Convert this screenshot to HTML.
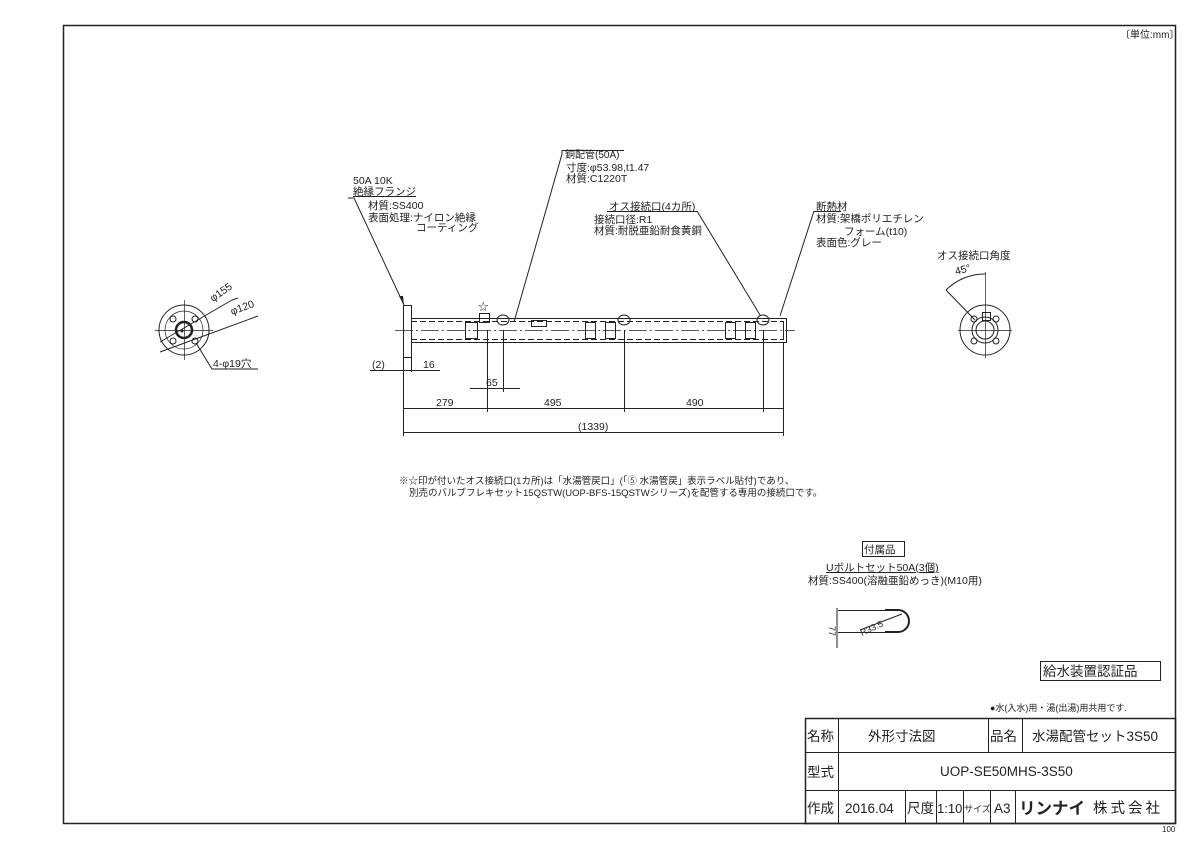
<!DOCTYPE html>
<html><head><meta charset="utf-8"><style>
html,body{margin:0;padding:0;background:#fff}
svg{display:block}
text{font-family:"Liberation Sans","Noto Sans CJK JP",sans-serif;fill:#222}
</style></head><body>
<svg width="1200" height="849" viewBox="0 0 1200 849" xmlns="http://www.w3.org/2000/svg">
<g stroke="#222" fill="none" stroke-width="1">
<rect x="63.5" y="25.5" width="1112" height="798" stroke-width="1.5"/>
<rect x="805.5" y="718.5" width="370" height="105" stroke-width="1.5"/>
<line x1="805" y1="752.5" x2="1175" y2="752.5"/>
<line x1="805" y1="790.5" x2="1175" y2="790.5"/>
<line x1="838.5" y1="718" x2="838.5" y2="823"/>
<line x1="988.5" y1="718" x2="988.5" y2="752"/>
<line x1="1022.5" y1="718" x2="1022.5" y2="752"/>
<line x1="905.5" y1="790" x2="905.5" y2="823"/>
<line x1="936.5" y1="790" x2="936.5" y2="823"/>
<line x1="963.5" y1="790" x2="963.5" y2="823"/>
<line x1="990.5" y1="790" x2="990.5" y2="823"/>
<line x1="1015.5" y1="790" x2="1015.5" y2="823"/>
<rect x="1040.5" y="661.5" width="120" height="19"/>
<rect x="862.5" y="541.5" width="42" height="15"/>

<rect x="403.5" y="305.5" width="8" height="52"/>
<rect x="411.5" y="318.5" width="375" height="24"/>
<line x1="411" y1="321.5" x2="783" y2="321.5" stroke-dasharray="6,3"/>
<line x1="411" y1="339.5" x2="783" y2="339.5" stroke-dasharray="6,3"/>
<line x1="395" y1="330.5" x2="795" y2="330.5" stroke-dasharray="18,3,2,3" stroke-width="0.7"/>
<line x1="783.5" y1="321" x2="783.5" y2="340"/>
<rect x="465.5" y="322.5" width="12" height="16"/>
<rect x="585.5" y="322.5" width="10" height="16"/>
<rect x="605.5" y="322.5" width="10" height="16"/>
<rect x="725.5" y="322.5" width="10" height="16"/>
<rect x="745.5" y="322.5" width="10" height="16"/>
<rect x="531.5" y="320.5" width="15" height="6"/>
<rect x="479.5" y="313.5" width="10" height="9"/>
<ellipse cx="503" cy="320" rx="6" ry="5"/>
<ellipse cx="624" cy="320" rx="6" ry="5"/>
<ellipse cx="763" cy="320" rx="6" ry="5"/>
<line x1="403.5" y1="358" x2="403.5" y2="436"/>
<line x1="487.5" y1="330" x2="487.5" y2="412"/>
<line x1="503.5" y1="330" x2="503.5" y2="392"/>
<line x1="624.5" y1="330" x2="624.5" y2="412"/>
<line x1="763.5" y1="330" x2="763.5" y2="412"/>
<line x1="783.5" y1="343" x2="783.5" y2="436"/>
<line x1="411.5" y1="358" x2="411.5" y2="372"/>
<line x1="370" y1="370.5" x2="440" y2="370.5"/>
<line x1="470" y1="388.5" x2="520" y2="388.5"/>
<line x1="403" y1="408.5" x2="783" y2="408.5"/>
<line x1="403" y1="432.5" x2="783" y2="432.5"/>
<polyline points="348,198 354,198 404,305"/>
<line x1="353" y1="196.5" x2="416" y2="196.5"/>
<polyline points="562,150 562,154 514,322"/>
<line x1="562" y1="150.5" x2="624" y2="150.5"/>
<line x1="607" y1="211.5" x2="697" y2="211.5"/>
<line x1="697" y1="211" x2="760" y2="315"/>
<line x1="814" y1="211.5" x2="841" y2="211.5"/>
<line x1="814" y1="211" x2="780" y2="316"/>
<circle cx="184" cy="330" r="25"/>
<circle cx="184" cy="330" r="19" stroke-width="0.7"/>
<circle cx="184" cy="330" r="8" stroke-width="2.5"/>
<circle cx="173" cy="319" r="3"/><circle cx="195" cy="319" r="3"/>
<circle cx="173" cy="341" r="3"/><circle cx="195" cy="341" r="3"/>
<line x1="155" y1="330.5" x2="213" y2="330.5" stroke-width="0.7"/>
<line x1="184.5" y1="300" x2="184.5" y2="360" stroke-width="0.7"/>
<line x1="160" y1="342" x2="232" y2="300"/>
<line x1="160" y1="352" x2="258" y2="316"/>
<line x1="232" y1="300" x2="238" y2="298"/>
<polyline points="196,343 212,369 258,369"/>
<circle cx="985" cy="330" r="25"/>
<circle cx="985" cy="330" r="13"/>
<circle cx="985" cy="330" r="9"/>
<circle cx="974" cy="319" r="3"/><circle cx="996" cy="319" r="3"/>
<circle cx="974" cy="341" r="3"/><circle cx="996" cy="341" r="3"/>
<line x1="958" y1="330.5" x2="1012" y2="330.5" stroke-width="0.7"/>
<line x1="985.5" y1="272" x2="985.5" y2="358" stroke-width="0.7"/>
<line x1="946" y1="290" x2="975" y2="320"/>
<path d="M946,290 A55,55 0 0 1 985,274"/>
<rect x="982.5" y="312.5" width="8" height="8"/>
<line x1="837" y1="608" x2="837" y2="648"/>
<line x1="838" y1="610.5" x2="892" y2="610.5"/>
<line x1="838" y1="632.5" x2="892" y2="632.5"/>
<path d="M885,610 L898,610 A11,11 0 0 1 898,632 L885,632" stroke-width="2"/>
<line x1="860" y1="630" x2="902" y2="614"/>
</g>
<g fill="#222">
<circle cx="182" cy="331" r="1.5"/>
<polygon points="404,305 399,296 403,296"/>
</g>
<g font-size="10.5">
<text x="1120" y="38" font-size="10">〔単位:mm〕</text>
<text x="353" y="184">50A 10K</text>
<text x="353" y="195">絶縁フランジ</text>
<text x="368" y="209">材質:SS400</text>
<text x="368" y="221">表面処理:ナイロン絶縁</text>
<text x="416" y="231">コーティング</text>
<text x="565" y="158" font-size="10">銅配管(50A)</text>
<text x="566" y="171">寸度:φ53.98,t1.47</text>
<text x="566" y="182">材質:C1220T</text>
<text x="609" y="210">オス接続口(4カ所)</text>
<text x="594" y="223">接続口径:R1</text>
<text x="594" y="234">材質:耐脱亜鉛耐食黄銅</text>
<text x="816" y="210">断熱材</text>
<text x="816" y="222">材質:架橋ポリエチレン</text>
<text x="844" y="235">フォーム(t10)</text>
<text x="816" y="246">表面色:グレー</text>
<text x="937" y="259">オス接続口角度</text>
<text x="956" y="275" transform="rotate(-15 956 275)">45°</text>
<text x="478" y="310">☆</text>
<text x="372" y="368">(2)</text>
<text x="423" y="368">16</text>
<text x="486" y="386">65</text>
<text x="436" y="406">279</text>
<text x="544" y="406">495</text>
<text x="686" y="406">490</text>
<text x="578" y="430">(1339)</text>
<text x="213" y="302" transform="rotate(-35 213 302)">φ155</text>
<text x="232" y="315" transform="rotate(-20 232 315)">φ120</text>
<text x="213" y="367">4-φ19穴</text>
<text x="399" y="484" font-size="9.5">※☆印が付いたオス接続口(1カ所)は「水湯管戻口」(「⑤ 水湯管戻」表示ラベル貼付)であり、</text>
<text x="409" y="496" font-size="9.5">別売のバルブフレキセット15QSTW(UOP-BFS-15QSTWシリーズ)を配管する専用の接続口です。</text>
<text x="864" y="553">付属品</text>
<text x="826" y="571" text-decoration="underline">Uボルトセット50A(3個)</text>
<text x="808" y="584">材質:SS400(溶融亜鉛めっき)(M10用)</text>
<text x="829" y="626" font-size="9" transform="rotate(90 829 626)">77</text>
<text x="862" y="636" font-size="9" transform="rotate(-25 862 636)">R33.5</text>
<text x="1043" y="676" font-size="13.5">給水装置認証品</text>
<text x="990" y="711" font-size="9">●水(入水)用・湯(出湯)用共用です.</text>
<text x="807" y="741" font-size="13.5">名称</text>
<text x="868" y="741" font-size="13.5">外形寸法図</text>
<text x="990" y="741" font-size="13.5">品名</text>
<text x="1032" y="741" font-size="13.5">水湯配管セット3S50</text>
<text x="807" y="777" font-size="13.5">型式</text>
<text x="940" y="776" font-size="13.5">UOP-SE50MHS-3S50</text>
<text x="807" y="813" font-size="13.5">作成</text>
<text x="845" y="813" font-size="13.5">2016.04</text>
<text x="907" y="813" font-size="13.5">尺度</text>
<text x="937" y="813" font-size="13">1:10</text>
<text x="964" y="812" font-size="9">サイズ</text>
<text x="994" y="813" font-size="13.5">A3</text>
<text x="1019" y="814" font-size="16.5" font-weight="bold">リンナイ</text>
<text x="1093" y="813" font-size="14.5" letter-spacing="3">株式会社</text>
<text x="1162" y="832" font-size="8">100</text>
</g>
</svg>
</body></html>
